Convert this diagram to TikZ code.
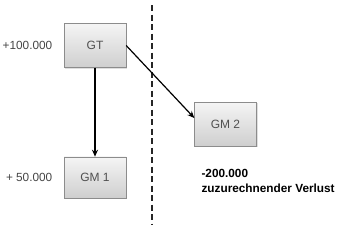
\documentclass[tikz,border=0pt]{standalone}
\usepackage{fontspec}
\setmainfont{Liberation Sans}
\usetikzlibrary{positioning, arrows.meta, shadows, calc}
\definecolor{boxLine}{HTML}{8C8C8C}
\definecolor{boxText}{HTML}{505050}
\definecolor{valText}{HTML}{454545}

\begin{document}
\begin{tikzpicture}[x=1pt, y=-1pt,
    unit/.style={draw=boxLine, top color=gray!8, bottom color=gray!38, minimum width=62pt, minimum height=44pt, font=\fontsize{12}{14}\selectfont, text=boxText, drop shadow={shadow xshift=1pt, shadow yshift=-1pt, opacity=0.25}},
    val/.style={font=\fontsize{11.8}{13}\selectfont, text=valText},
    flow/.style={-{Stealth[length=7pt, width=6pt]}, line width=1.2pt}
]
\useasboundingbox (0,0) rectangle (357,225);
\node[unit] (gt) at (95,45.5) {GT};
\node[unit, minimum height=41pt, below=89pt of gt] (gm1) {GM 1};
\node[unit] (gm2) at (225.5,124) {GM 2};

\node[val, left=8pt of gt] (vgt) {+100.000};
\node[val, left=8pt of gm1] (vgm1) {+ 50.000};
\node[val, font=\bfseries\fontsize{11.8}{15}\selectfont, text=black, align=left, anchor=north west] (vgm2) at (198,166) {-200.000\\zuzurechnender Verlust};

\draw[dashed, dash pattern=on 6pt off 3.5pt, line width=1.5pt, black!85] (152,5) -- (152,225);

\draw[flow] (gt) -- (gm1);
\draw[flow] (gt.east) -- ($(gm2.west)+(0,-6)$);
\end{tikzpicture}
\end{document}
